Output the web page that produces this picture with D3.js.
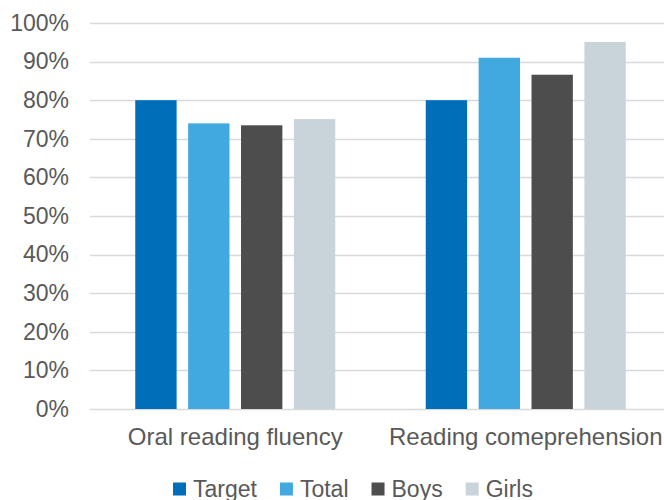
<!DOCTYPE html>
<html>
<head>
<meta charset="utf-8">
<script src="https://cdn.jsdelivr.net/npm/d3@7"></script>
<style>
  body { margin: 0; background: #fff; }
  svg { display: block; font-family: "Liberation Sans", Arial, sans-serif; }
  .tick text { fill: #595959; }
</style>
</head>
<body>
<svg id="chart" width="664" height="500"></svg>
<script>
// data
var categories = ["Oral reading fluency", "Reading comeprehension"];
var seriesNames = ["Target", "Total", "Boys", "Girls"];
var target = [80, 80];
var total = [74, 91];
var boys = [73.5, 86.6];
var girls = [75.1, 95.1];
var yTicks = [0, 10, 20, 30, 40, 50, 60, 70, 80, 90, 100];
var colors = ["#006EB8", "#41A8E0", "#4D4D4D", "#C9D3DA"];

var seriesValues = [target, total, boys, girls];

var svg = d3.select("#chart");
var plotLeft = 90, plotRight = 671, plotTop = 23, plotBottom = 409;

var y = d3.scaleLinear().domain([0, 100]).range([plotBottom, plotTop]);

var x0 = d3.scaleBand()
  .domain(categories)
  .range([plotLeft, plotRight])
  .padding(0);

// bars take ~200px of the 290px band, small gaps between them
var inner = 200;
var x1 = d3.scaleBand()
  .domain(seriesNames)
  .range([(x0.bandwidth() - inner) / 2, (x0.bandwidth() + inner) / 2])
  .paddingInner(0.218)
  .paddingOuter(0);

// gridlines
svg.append("g")
  .selectAll("line")
  .data(yTicks)
  .enter().append("line")
  .attr("x1", plotLeft)
  .attr("x2", plotRight)
  .attr("y1", function(d){ return Math.round(y(d)) + 0.5; })
  .attr("y2", function(d){ return Math.round(y(d)) + 0.5; })
  .attr("stroke", "#D9D9D9")
  .attr("stroke-width", 1.5);

// y axis labels
var yAxis = d3.axisLeft(y)
  .tickValues(yTicks)
  .tickFormat(function(d){ return d + "%"; })
  .tickSize(0)
  .tickPadding(21);

var ya = svg.append("g")
  .attr("transform", "translate(" + plotLeft + ",0)")
  .call(yAxis);
ya.select(".domain").remove();
ya.selectAll("text").attr("font-size", "23px").attr("font-family", "Liberation Sans, Arial, sans-serif");

// bars
var groups = svg.append("g")
  .selectAll("g")
  .data(categories)
  .enter().append("g")
  .attr("transform", function(d){ return "translate(" + x0(d) + ",0)"; });

groups.selectAll("rect")
  .data(function(d, i){
    return seriesNames.map(function(s, j){ return {s: s, v: seriesValues[j][i], c: colors[j]}; });
  })
  .enter().append("rect")
  .attr("x", function(d){ return x1(d.s); })
  .attr("width", x1.bandwidth())
  .attr("y", function(d){ return y(d.v); })
  .attr("height", function(d){ return y(0) - y(d.v); })
  .attr("fill", function(d){ return d.c; });

// category axis
var xAxis = d3.axisBottom(x0).tickSize(0).tickPadding(19);
var xa = svg.append("g")
  .attr("transform", "translate(0," + plotBottom + ")")
  .call(xAxis);
xa.select(".domain").remove();
xa.selectAll("text").attr("font-size", "24px").attr("font-family", "Liberation Sans, Arial, sans-serif");

// legend
var legend = svg.append("g").attr("transform", "translate(0,489)");
var lx = 173;
seriesNames.forEach(function(s, i){
  var item = legend.append("g").attr("transform", "translate(" + lx + ",0)");
  item.append("rect")
    .attr("x", 0).attr("y", -6.5)
    .attr("width", 13).attr("height", 13)
    .attr("fill", colors[i]);
  var t = item.append("text")
    .attr("x", 20)
    .attr("dy", "0.35em")
    .attr("font-size", "23px")
    .attr("fill", "#595959")
    .text(s);
  lx += 20 + t.node().getComputedTextLength() + 23;
});
</script>
</body>
</html>
